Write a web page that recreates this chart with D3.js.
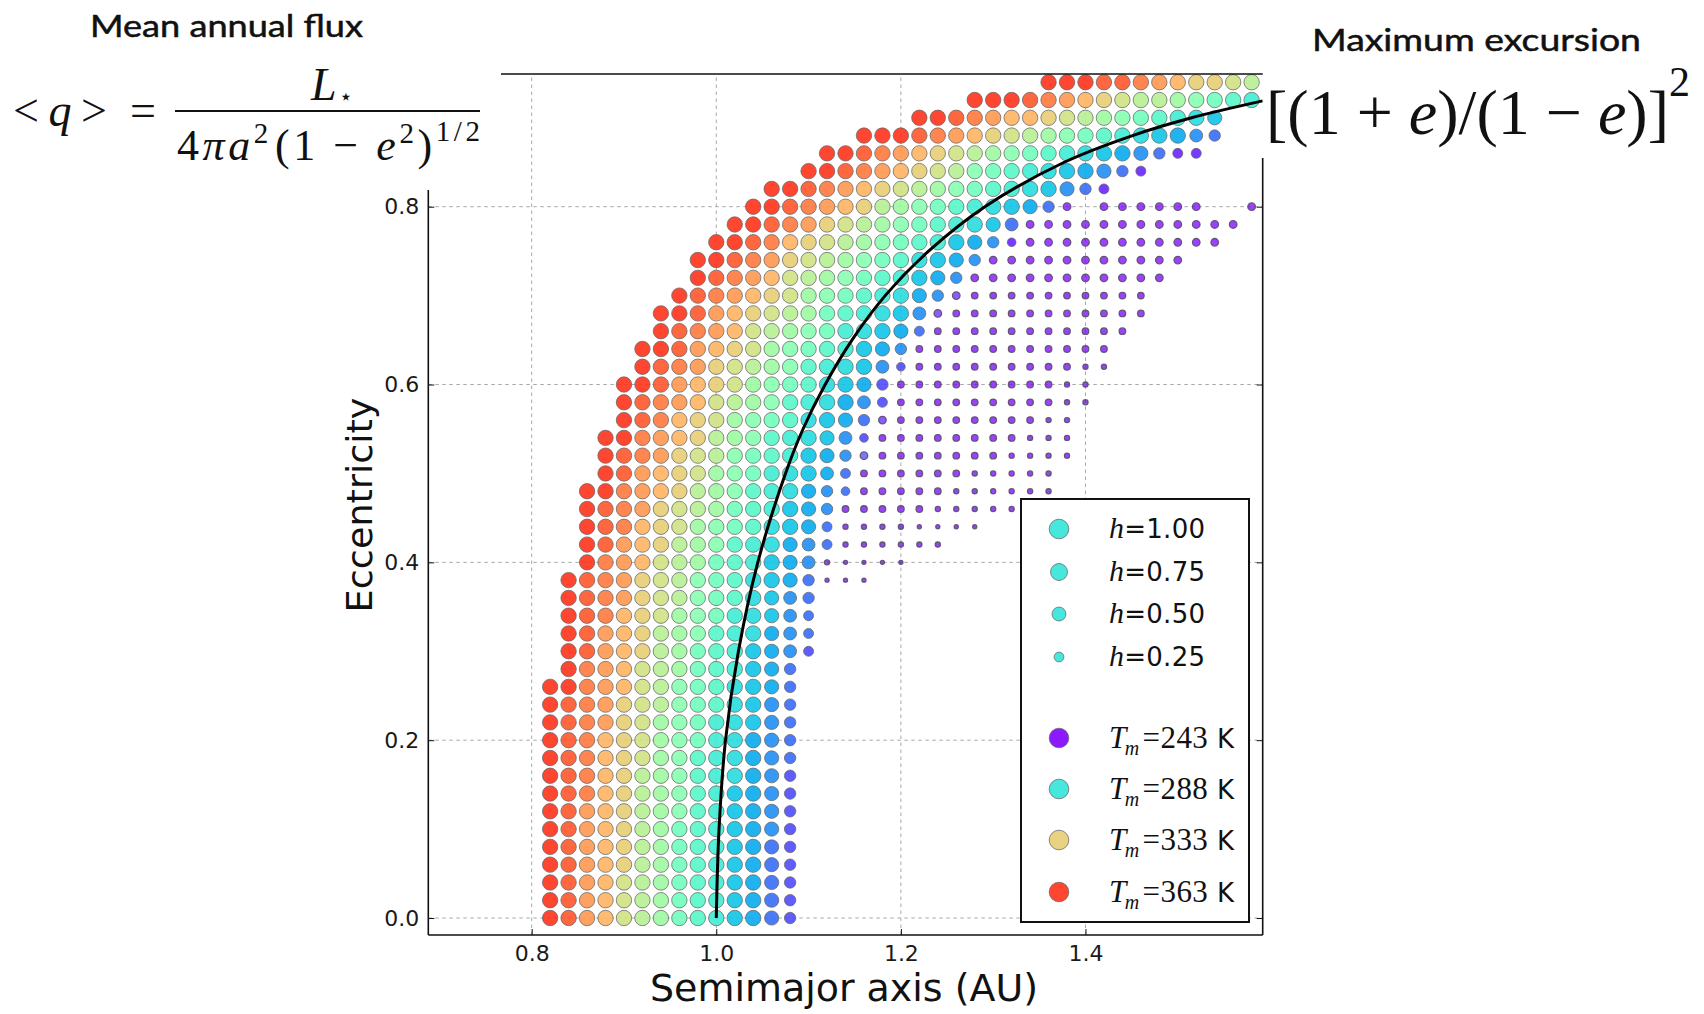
<!DOCTYPE html>
<html>
<head>
<meta charset="utf-8">
<script src="https://cdn.jsdelivr.net/npm/d3@7"></script>
<style>
  body { margin: 0; background: #fff; }
  svg { display: block; }
</style>
</head>
<body>
<div id="chart"></div>
<script>
// ---- data ----
// one row of dots per eccentricity value (bottom to top)
const eccRows = [0.00, 0.02, 0.04, 0.06, 0.08, 0.10, 0.12, 0.14, 0.16, 0.18,
                 0.20, 0.22, 0.24, 0.26, 0.28, 0.30, 0.32, 0.34, 0.36, 0.38,
                 0.40, 0.42, 0.44, 0.46, 0.48, 0.50, 0.52, 0.54, 0.56, 0.58,
                 0.60, 0.62, 0.64, 0.66, 0.68, 0.70, 0.72, 0.74, 0.76, 0.78,
                 0.80, 0.82, 0.84, 0.86, 0.88, 0.90, 0.92, 0.94];

// semimajor axis of the first dot of each row
const rowStartA = [0.82, 0.82, 0.82, 0.82, 0.82, 0.82, 0.82, 0.82, 0.82, 0.82,
                   0.82, 0.82, 0.82, 0.82, 0.84, 0.84, 0.84, 0.84, 0.84, 0.84,
                   0.86, 0.86, 0.86, 0.86, 0.86, 0.88, 0.88, 0.88, 0.90, 0.90,
                   0.90, 0.92, 0.92, 0.94, 0.94, 0.96, 0.98, 0.98, 1.00, 1.02,
                   1.04, 1.06, 1.10, 1.12, 1.16, 1.22, 1.28, 1.36];
const gridStep = 0.02;

// mean temperature of each dot, one char per dot: Tm = 243 + 6*code ('.' = no dot)
const tempCodes = "0123456789ABCDEFGHIJK";
const rowTemp = [
  "KJHGEDCA986532",
  "KJHGEDCA986532",
  "KJHGEDCA986532",
  "KJHGFDCA986532",
  "KJHGFDCA986532",
  "KJHGFDCA986542",
  "KJHGFDCB986542",
  "KJIGFDCB986542",
  "KJIGFDCB987542",
  "KJIGFECB987543",
  "KJIGFECBA87543",
  "KJIHFECBA87643",
  "KJIHFEDBA97643",
  "KKIHGEDBA97653",
  "KIHGEDCA98653",
  "KJHGFDCA986542",
  "KJHGFDCB987543",
  "KJIGFECBA87643",
  "KJIHFEDBA97643",
  "KJIHFEDBA97653000",
  "KIHGEDCA9865400000",
  "KJHGFDCB987543000000",
  "KJIGFECBA9765300000000",
  "KJIHFEDCA986540000000000",
  "KKIHGFDCB98754300000000000",
  "KJHGFECBA8765300000000000",
  "KJIHFEDBA98654200000000000",
  "KKIHGFDCB98764200000000000",
  "KJIGFECBA9765310000000000",
  "KJIHGEDCB98754200000000000",
  "KKJHGFECBA9765200000000000",
  "KJIHFEDCB98764200000000000",
  "KKJHGFECBA9865400000000000",
  "KJIHGEDCBA8765300000000000",
  "KKJHGFEDCA98764100000000000",
  "KJIHGFECBA9875410000000000",
  "KJIHGEDCBA9865400000000000",
  "KKJIHFEDCBA9765400000000000",
  "KKJIGFEDCBA98654100000000000",
  "KKJIHFEDCBA98763000000000000",
  "KKJIHGFDCBA9876530.000000..0",
  "KKJIHGFEDCBA9876431",
  "KKJIHGFEDBA98765431",
  "KKJIHGFEDCBA987654311",
  "KKKJIHGFEDCBA9876543",
  "KKJIHGGFEDCBA9876",
  "KKKJIHGFEDDCBA98",
  "KKKJJIHGFFED"
];

// habitability h of the last dots of each row (right aligned), earlier dots have h = 1
const sizeCodes = "abcdefghij";
const sizeLevels = [0.07, 0.11, 0.18, 0.24, 0.32, 0.42, 0.55, 0.70, 0.85, 1.00];
const rowSizeTail = [
  "ig", "ig", "ig", "ig", "ig", "ig", "ig", "ig", "ig", "ig",
  "ig", "ig", "ig", "ig", "ig", "ihf", "ihf", "ihf", "ihg", "igaaa",
  "ihbaaaa",
  "ihfbbbbbb",
  "ifbbbbaaaa",
  "igcccccbbbbb",
  "igecccccbbbbbb",
  "hfccccccbbbbb",
  "igdcccccccbbbb",
  "iheccccccccbbb",
  "igdccccccccbb",
  "hfcccccccccbb",
  "igcccccccccbb",
  "hecccccccccbb",
  "igccccccccccc",
  "ifccccccccccc",
  "hdccccccccccc",
  "igdcccccccccc",
  "igddddddddddd",
  "igddddddddddd",
  "igeddddddddddd",
  "ihdddddddddddd",
  "igd.dddddd..d",
  "igf", "igf", "igff", "hg", "i", "", ""
];

// black curve (constant mean flux)
const curveE = [0.000, 0.100, 0.200, 0.300, 0.400, 0.500, 0.550, 0.600, 0.650, 0.700, 0.750, 0.800, 0.850, 0.880, 0.900, 0.919];
const curveA = [1.000, 1.003, 1.010, 1.024, 1.045, 1.075, 1.094, 1.118, 1.147, 1.183, 1.230, 1.291, 1.377, 1.451, 1.515, 1.592];

const xTicks = [0.8, 1.0, 1.2, 1.4];
const yTicks = [0.0, 0.2, 0.4, 0.6, 0.8];
const legendH = [1.00, 0.75, 0.50, 0.25];
const legendT = [243, 288, 333, 363];

// ---- drawing ----
const W = 1704, H = 1014;
const serif = "'Liberation Serif', 'DejaVu Serif', serif";
const sans = "'DejaVu Sans', 'Liberation Sans', sans-serif";

const svg = d3.select("#chart").append("svg")
    .attr("width", W)
    .attr("height", H);

const plot = {left: 428.3, right: 1262.7, bottom: 935, top: 74};

const x = d3.scaleLinear().domain([0.688, 1.592]).range([plot.left, plot.right]);
const y = d3.scaleLinear().domain([-0.0191, 0.8]).range([plot.bottom, 206.7]);
const r = d3.scaleSqrt().domain([0, 1]).range([0, 7.7]);
const rLegend = d3.scaleSqrt().domain([0, 1]).range([0, 9.8]);
const tNorm = d3.scaleLinear().domain([243, 371]).range([0, 1]).clamp(true);

// matplotlib "rainbow" colormap
function rainbow(t) {
    const rr = Math.min(1, Math.abs(2 * t - 0.5));
    const gg = Math.sin(Math.PI * t);
    const bb = Math.cos(Math.PI * t / 2);
    return d3.rgb(rr * 255, gg * 255, bb * 255).formatHex();
}
const color = tm => rainbow(tNorm(tm));
const small = d => d.h < 0.3;

// flatten rows into dots
let dots = [];
eccRows.forEach((e, i) => {
    const t = rowTemp[i];
    const tail = rowSizeTail[i];
    const off = t.length - tail.length;
    for (let k = 0; k < t.length; k++) {
        if (t[k] === ".") continue;
        const sc = k >= off ? tail[k - off] : "j";
        dots.push({
            a: rowStartA[i] + gridStep * k,
            e: e,
            tm: 243 + 6 * tempCodes.indexOf(t[k]),
            h: sizeLevels[sizeCodes.indexOf(sc)]
        });
    }
});

// grid
const grid = svg.append("g")
    .attr("stroke", "#a8a8a8")
    .attr("stroke-width", 1)
    .attr("stroke-dasharray", "3.5,3.5");
grid.selectAll(".vg").data(xTicks).enter().append("line")
    .attr("x1", d => x(d)).attr("x2", d => x(d))
    .attr("y1", plot.bottom).attr("y2", plot.top);
grid.selectAll(".hg").data(yTicks).enter().append("line")
    .attr("x1", plot.left).attr("x2", plot.right)
    .attr("y1", d => y(d)).attr("y2", d => y(d));

// dots
svg.append("g").selectAll("circle").data(dots).enter().append("circle")
    .attr("cx", d => x(d.a))
    .attr("cy", d => y(d.e))
    .attr("r", d => r(d.h))
    .attr("fill", d => color(d.tm))
    .attr("fill-opacity", d => small(d) ? 0.75 : 0.9)
    .attr("stroke", d => small(d) ? "#5a5470" : "#666")
    .attr("stroke-opacity", d => small(d) ? 0.95 : 0.75)
    .attr("stroke-width", d => small(d) ? 1.3 : 1);

// curve
svg.append("clipPath").attr("id", "clip").append("rect")
    .attr("x", plot.left).attr("y", plot.top)
    .attr("width", plot.right - plot.left).attr("height", plot.bottom - plot.top);

const line = d3.line()
    .x(d => x(d[0]))
    .y(d => y(d[1]))
    .curve(d3.curveCatmullRom);
svg.append("path")
    .datum(curveA.map((a, i) => [a, curveE[i]]))
    .attr("clip-path", "url(#clip)")
    .attr("fill", "none")
    .attr("stroke", "#000")
    .attr("stroke-width", 3)
    .attr("d", line);

// axes (ticks inside)
const xAxis = svg.append("g")
    .attr("transform", "translate(0," + plot.bottom + ")")
    .call(d3.axisBottom(x).tickValues(xTicks).tickSizeInner(-6).tickSizeOuter(0).tickPadding(10)
        .tickFormat(d3.format(".1f")));
const yAxis = svg.append("g")
    .attr("transform", "translate(" + plot.left + ",0)")
    .call(d3.axisLeft(y).tickValues(yTicks).tickSizeInner(-6).tickSizeOuter(0).tickPadding(9)
        .tickFormat(d3.format(".1f")));
const rAxis = svg.append("g")
    .attr("transform", "translate(" + plot.right + ",0)")
    .call(d3.axisRight(y).tickValues(yTicks).tickSizeInner(-6).tickSizeOuter(0).tickFormat(""));
[xAxis, yAxis, rAxis].forEach(g => {
    g.select(".domain").remove();
    g.selectAll("text").attr("font-family", sans).attr("font-size", 22).attr("fill", "#1a1a1a");
    g.selectAll("line").attr("stroke", "#111");
});

// spines (top part of the figure is pasted on, so the frame is partial)
const spines = svg.append("g").attr("stroke", "#111").attr("stroke-width", 1.6);
spines.append("line").attr("x1", plot.left).attr("x2", plot.left).attr("y1", 190).attr("y2", plot.bottom);
spines.append("line").attr("x1", plot.left).attr("x2", plot.right).attr("y1", plot.bottom).attr("y2", plot.bottom);
spines.append("line").attr("x1", plot.right).attr("x2", plot.right).attr("y1", 158).attr("y2", plot.bottom);
spines.append("line").attr("x1", 501).attr("x2", plot.right).attr("y1", plot.top).attr("y2", plot.top);

// axis labels
svg.append("text")
    .attr("x", 844).attr("y", 1001)
    .attr("text-anchor", "middle")
    .attr("font-family", sans).attr("font-size", 37)
    .attr("textLength", 388).attr("lengthAdjust", "spacingAndGlyphs")
    .attr("fill", "#111")
    .text("Semimajor axis (AU)");
svg.append("text")
    .attr("transform", "translate(372,505) rotate(-90)")
    .attr("text-anchor", "middle")
    .attr("font-family", sans).attr("font-size", 36)
    .attr("textLength", 215).attr("lengthAdjust", "spacingAndGlyphs")
    .attr("fill", "#111")
    .text("Eccentricity");

// legend
const lg = svg.append("g");
lg.append("rect")
    .attr("x", 1021).attr("y", 499).attr("width", 228).attr("height", 423)
    .attr("fill", "#fff").attr("stroke", "#111").attr("stroke-width", 2);

const hY = [529, 572, 614, 657];
const tY = [738, 789, 840, 892];

lg.selectAll(".lh").data(legendH).enter().append("circle")
    .attr("cx", 1059).attr("cy", (d, i) => hY[i])
    .attr("r", d => rLegend(d))
    .attr("fill", color(288)).attr("fill-opacity", 0.9)
    .attr("stroke", "#666").attr("stroke-opacity", 0.75);
lg.selectAll(".lt").data(legendT).enter().append("circle")
    .attr("cx", 1059).attr("cy", (d, i) => tY[i])
    .attr("r", rLegend(1))
    .attr("fill", d => color(d)).attr("fill-opacity", 0.9)
    .attr("stroke", "#666").attr("stroke-opacity", 0.75);

function mathLine(parent, px, py, parts, len) {
    const t = parent.append("text").attr("x", px).attr("y", py).attr("fill", "#111");
    parts.forEach(p => {
        t.append("tspan")
            .attr("font-family", p.f || serif)
            .attr("font-style", p.i ? "italic" : "normal")
            .attr("font-size", p.s)
            .attr("dy", p.dy || 0)
            .attr("dx", p.dx || 0)
            .text(p.t);
    });
    if (len) t.attr("textLength", len).attr("lengthAdjust", "spacing");
    return t;
}

legendH.forEach((h, i) => {
    mathLine(lg, 1109, hY[i] + 9, [
        {t: "h", i: 1, s: 30},
        {t: "=" + d3.format(".2f")(h), s: 26, f: sans}
    ], 96);
});
legendT.forEach((tm, i) => {
    mathLine(lg, 1109, tY[i] + 10, [
        {t: "T", i: 1, s: 31},
        {t: "m", i: 1, s: 20, dy: 7, dx: -2},
        {t: "=" + tm, s: 31, dy: -7, dx: 3},
        {t: " K", s: 26, f: sans}
    ], 125);
});

// header annotations
svg.append("text")
    .attr("x", 90).attr("y", 37)
    .attr("font-family", "Lato, 'Open Sans', sans-serif").attr("font-size", 30)
    .attr("textLength", 273).attr("lengthAdjust", "spacingAndGlyphs")
    .attr("fill", "#111").attr("stroke", "#111").attr("stroke-width", 0.5)
    .text("Mean annual flux");
svg.append("text")
    .attr("x", 1312).attr("y", 51)
    .attr("font-family", "Lato, 'Open Sans', sans-serif").attr("font-size", 31)
    .attr("textLength", 329).attr("lengthAdjust", "spacingAndGlyphs")
    .attr("fill", "#111").attr("stroke", "#111").attr("stroke-width", 0.5)
    .text("Maximum excursion");

// <q> = L* / (4 pi a^2 (1 - e^2)^(1/2))
mathLine(svg, 13, 126, [
    {t: "<", s: 46},
    {t: "q", i: 1, s: 46, dx: 2},
    {t: ">", s: 46, dx: 2}
], 94);
mathLine(svg, 130, 126, [{t: "=", s: 46}]);
svg.append("line")
    .attr("x1", 175).attr("x2", 480).attr("y1", 111).attr("y2", 111)
    .attr("stroke", "#111").attr("stroke-width", 2);
mathLine(svg, 311, 100, [
    {t: "L", i: 1, s: 46},
    {t: "\u22C6", s: 22, dy: 4, dx: 2, f: "'DejaVu Serif', serif"}
]);
mathLine(svg, 177, 160, [
    {t: "4", s: 44},
    {t: "\u03C0", i: 1, s: 44},
    {t: "a", i: 1, s: 44},
    {t: "2", s: 29, dy: -17},
    {t: "(", s: 44, dy: 17, dx: 3},
    {t: "1", s: 44},
    {t: " \u2212 ", s: 44},
    {t: "e", i: 1, s: 44},
    {t: "2", s: 29, dy: -17},
    {t: ")", s: 44, dy: 17},
    {t: "1/2", s: 29, dy: -19}
], 303);

// [(1+e)/(1-e)]^2
mathLine(svg, 1266, 134, [
    {t: "[(1 + ", s: 64},
    {t: "e", i: 1, s: 64},
    {t: ")/(1 \u2212 ", s: 64},
    {t: "e", i: 1, s: 64},
    {t: ")]", s: 64},
    {t: "2", s: 42, dy: -38}
], 424);
</script>
</body>
</html>
